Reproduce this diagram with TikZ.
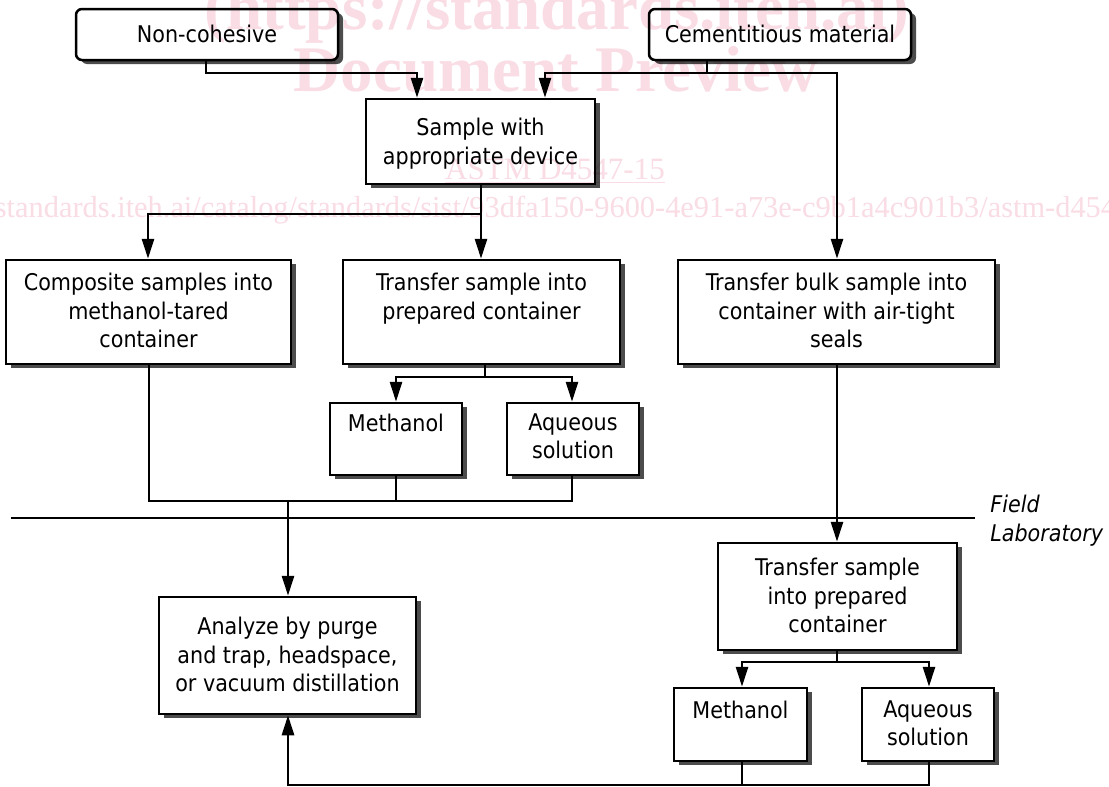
\documentclass[tikz,border=0pt]{standalone}
\usepackage{fontspec}
\setmainfont{DejaVu Sans Condensed}
\newfontfamily\wmfont{Liberation Serif}
\usetikzlibrary{arrows.meta,shadows,fit}
\definecolor{wm}{RGB}{249,220,228}
\tikzset{
  box/.style={draw, line width=1.25pt, fill=white, inner sep=0pt,
    drop shadow={shadow xshift=2.5pt, shadow yshift=-2pt, fill=black!70, opacity=1}},
  rbox/.style={box, rounded corners=3pt},
  txt/.style={anchor=north, align=center, inner sep=0pt,
    font=\fontsize{11.5pt}{14.25pt}\selectfont, execute at begin node={\rule{0pt}{9pt}}},
  conn/.style={line width=1.35pt},
  arr/.style={conn, -{Triangle[length=10pt,width=6pt]}},
  wmtext/.style={text=wm, inner sep=0pt},
}
\begin{document}
\begin{tikzpicture}[x=0.5pt, y=-0.5pt]
\useasboundingbox (0,0) rectangle (1109,787);
\fill[white] (0,0) rectangle (1109,787);

% boxes
\node[rbox, fit={(76,9) (338,60)}] (noncoh) {};
\node[rbox, fit={(649,9) (911,60)}] (cement) {};
\node[box, fit={(366,99) (595,184)}] (sample) {};
\node[box, fit={(6,260) (291,364)}] (composite) {};
\node[box, fit={(343,260) (620,364)}] (transfer1) {};
\node[box, fit={(678,260) (995,364)}] (bulk) {};
\node[box, fit={(330,403) (462,475)}] (meth1) {};
\node[box, fit={(507,403) (639,475)}] (aq1) {};
\node[box, fit={(159,597) (416,714)}] (analyze) {};
\node[box, fit={(718,543) (957,650)}] (transfer2) {};
\node[box, fit={(674,688) (807,761)}] (meth2) {};
\node[box, fit={(862,688) (994,761)}] (aq2) {};

% texts
\node[txt] (noncoh-t) at (207,24) {Non-cohesive};
\node[txt] (cement-t) at (780,24) {Cementitious material};
\node[txt] (sample-t) at (480.5,118) {Sample with\\appropriate device};
\node[txt] (composite-t) at (148.5,273) {Composite samples into\\methanol-tared\\container};
\node[txt] (transfer1-t) at (481.5,273) {Transfer sample into\\prepared container};
\node[txt] (bulk-t) at (836.5,273) {Transfer bulk sample into\\container with air-tight\\seals};
\node[txt] (meth1-t) at (396,413) {Methanol};
\node[txt] (aq1-t) at (573,413) {Aqueous\\solution};
\node[txt] (analyze-t) at (287.5,617) {Analyze by purge\\and trap, headspace,\\or vacuum distillation};
\node[txt] (transfer2-t) at (837.5,558) {Transfer sample\\into prepared\\container};
\node[txt] (meth2-t) at (740.5,700) {Methanol};
\node[txt] (aq2-t) at (928,700) {Aqueous\\solution};
\node[txt, anchor=north west, align=left, font=\fontsize{11.5pt}{14.5pt}\selectfont\itshape] (fieldlab) at (990,495) {Field\\Laboratory};

% junction coordinates
\coordinate (a1) at (206,73); \coordinate (a2) at (417,73);
\coordinate (b1) at (707,73); \coordinate (b2) at (545,73); \coordinate (b3) at (837,73);
\coordinate (c1) at (481,214); \coordinate (c2) at (148,214);
\coordinate (d1) at (485,377); \coordinate (d2) at (396,377); \coordinate (d3) at (572,377);
\coordinate (e1) at (149,501); \coordinate (e2) at (572,501); \coordinate (e3) at (396,501); \coordinate (e4) at (288,501);
\coordinate (f1) at (837,662); \coordinate (f2) at (742,662); \coordinate (f3) at (929,662);
\coordinate (g1) at (742,785); \coordinate (g2) at (929,785); \coordinate (g3) at (288,785);
\coordinate (s1) at (11,518); \coordinate (s2) at (975,518);

% connectors
\draw[arr] (noncoh.south -| a1) -- (a1) -- (a2) -- (sample.north -| a2);
\draw[arr] (cement.south -| b1) -- (b1) -- (b2) -- (sample.north -| b2);
\draw[arr] (b1) -- (b3) -- (bulk.north -| b3);
\draw[arr] (sample.south -| c1) -- (transfer1.north -| c1);
\draw[arr] (c1) -- (c2) -- (composite.north -| c2);
\draw[conn] (transfer1.south -| d1) -- (d1);
\draw[arr] (d1) -- (d2) -- (meth1.north -| d2);
\draw[arr] (d1) -- (d3) -- (aq1.north -| d3);
\draw[conn] (composite.south -| e1) -- (e1) -- (e2) -- (aq1.south -| e2);
\draw[conn] (meth1.south -| e3) -- (e3);
\draw[arr] (e4) -- (analyze.north -| e4);
\draw[arr] (bulk.south -| b3) -- (transfer2.north -| b3);
\draw[conn] (transfer2.south -| f1) -- (f1);
\draw[arr] (f1) -- (f2) -- (meth2.north -| f2);
\draw[arr] (f1) -- (f3) -- (aq2.north -| f3);
\draw[conn] (meth2.south -| g1) -- (g1);
\draw[arr] (aq2.south -| g2) -- (g2) -- (g3) -- (analyze.south -| g3);
\draw[conn] (s1) -- (s2);

% watermark
\begin{scope}[blend mode=multiply]
\clip (0,0) rectangle (1109,787);
\node[wmtext, anchor=base, font=\wmfont\bfseries\fontsize{32.5pt}{36pt}\selectfont] (wm1) at (557,29) {(https://standards.iteh.ai)};
\node[wmtext, anchor=base, font=\wmfont\bfseries\fontsize{32.5pt}{36pt}\selectfont] (wm2) at (556,91) {Document Preview};
\node[wmtext, anchor=base, font=\wmfont\fontsize{15.5pt}{18pt}\selectfont] (wm3) at (555,179) {ASTM D4547-15};
\draw[wm, line width=0.6pt] ([yshift=-1.6pt]wm3.base west) -- ([yshift=-1.6pt]wm3.base east);
\node[wmtext, anchor=base west, font=\wmfont\fontsize{15.2pt}{18pt}\selectfont] (wm4) at (-90,217) {https://standards.iteh.ai/catalog/standards/sist/93dfa150-9600-4e91-a73e-c9b1a4c901b3/astm-d4547-15};
\end{scope}
\end{tikzpicture}
\end{document}
